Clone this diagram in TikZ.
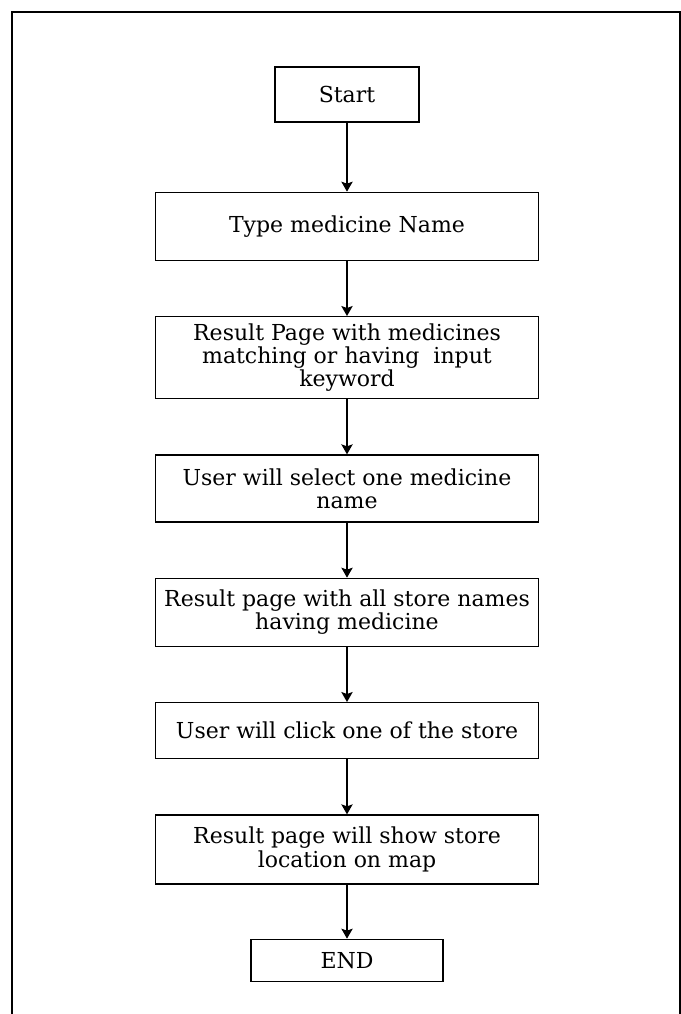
\documentclass[tikz,border=0pt]{standalone}
\usepackage{fontspec}
\setmainfont{DejaVu Serif}
\usetikzlibrary{positioning,arrows.meta}

\begin{document}
\begin{tikzpicture}[x=0.75pt, y=-0.75pt, node distance={41.25pt}, line width=1pt,
    main/.style = {draw, rectangle, minimum width=287.25pt, align=center, font=\fontsize{16.5}{17.5}\selectfont},
    arrow/.style = {-{Stealth[length=7.5pt, width=8.5pt, inset=1.5pt]}}]
            \useasboundingbox (0,0) rectangle (681,1014);
            \draw (12,1014) -- (12,12) -- (680,12) -- (680,1014);
            \node[main, minimum width=108pt, minimum height=41.25pt] (1) at (347,94.5) {Start};
            \node[main, minimum height=51pt] (2) [below=51.75pt of 1] {Type medicine Name};
            \node[main, minimum height=61.5pt] (3) [below=of 2] {Result Page with medicines\\matching or having~ input\\keyword};
            \node[main, minimum height=50.25pt] (4) [below=of 3] {User will select one medicine\\name};
            \node[main, minimum height=51pt] (5) [below=of 4] {Result page with all store names\\having medicine};
            \node[main, minimum height=42pt] (6) [below=of 5] {User will click one of the store};
            \node[main, minimum height=51.75pt] (7) [below=of 6] {Result page will show store\\location on map};
            \node[main, minimum width=144pt, minimum height=31.5pt] (8) [below=40.5pt of 7] {END};
            \draw[arrow] (1) -- (2);
            \draw[arrow] (2) -- (3);
            \draw[arrow] (3) -- (4);
            \draw[arrow] (4) -- (5);
            \draw[arrow] (5) -- (6);
            \draw[arrow] (6) -- (7);
            \draw[arrow] (7) -- (8);
\end{tikzpicture}
\end{document}
